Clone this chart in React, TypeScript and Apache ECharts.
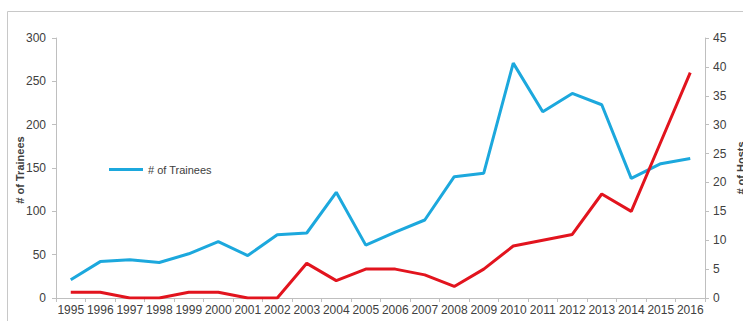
import React, { useEffect, useRef } from "react";
import * as echarts from "echarts";

const years = ["1995","1996","1997","1998","1999","2000","2001","2002","2003","2004","2005","2006","2007","2008","2009","2010","2011","2012","2013","2014","2015","2016"];
const trainees = [21, 42, 44, 41, 51, 65, 49, 73, 75, 122, 61, 76, 90, 140, 144, 271, 215, 236, 223, 138, 155, 161];
const hosts = [1, 1, 0, 0, 1, 1, 0, 0, 6, 3, 5, 5, 4, 2, 5, 9, 10, 11, 18, 15, 27, 39];
const leftTicks = [0, 300, 50];
const rightTicks = [0, 45, 5];

export default function App() {
  const ref = useRef<HTMLDivElement>(null);
  useEffect(() => {
    if (!ref.current) return;
    const chart = echarts.init(ref.current, undefined, { renderer: "svg" });
    const font = "Arial, 'Liberation Sans', sans-serif";
    chart.setOption({
      animation: false,
      backgroundColor: "#fff",
      grid: { left: 56, right: 38, top: 38, bottom: 23, containLabel: false },
      legend: {
        data: [{ name: "# of Trainees" }],
        left: 104,
        top: 159,
        itemWidth: 34,
        itemHeight: 3,
        itemGap: 4,
        icon: "rect",
        textStyle: { fontFamily: font, fontSize: 11, color: "#404040" },
      },
      xAxis: {
        type: "category",
        data: years,
        boundaryGap: true,
        axisLine: { lineStyle: { color: "#bfbfbf", width: 1 } },
        axisTick: { show: true, length: 4, lineStyle: { color: "#bfbfbf" } },
        axisLabel: { interval: 0, fontFamily: font, fontSize: 12, color: "#404040", margin: 6 },
      },
      yAxis: [
        {
          type: "value",
          min: leftTicks[0],
          max: leftTicks[1],
          interval: leftTicks[2],
          position: "left",
          axisLine: { show: true, lineStyle: { color: "#bfbfbf" } },
          axisTick: { show: true, length: 4, lineStyle: { color: "#bfbfbf" } },
          splitLine: { show: false },
          axisLabel: { fontFamily: font, fontSize: 12, color: "#404040", margin: 10 },
        },
        {
          type: "value",
          min: rightTicks[0],
          max: rightTicks[1],
          interval: rightTicks[2],
          position: "right",
          axisLine: { show: true, lineStyle: { color: "#bfbfbf" } },
          axisTick: { show: true, length: 4, lineStyle: { color: "#bfbfbf" } },
          splitLine: { show: false },
          axisLabel: { fontFamily: font, fontSize: 12, color: "#404040", margin: 8 },
        },
      ],
      graphic: [
        {
          type: "rect",
          shape: { x: 7.5, y: 11.5, width: 760, height: 340 },
          style: { fill: "none", stroke: "#c8c8c8", lineWidth: 1 },
          silent: true,
          z: -1,
        },
        {
          type: "text",
          x: 20,
          y: 170,
          rotation: Math.PI / 2,
          style: {
            text: "# of Trainees",
            fontFamily: font,
            fontSize: 11,
            fontWeight: "bold",
            fill: "#404040",
            align: "center",
            verticalAlign: "middle",
          },
        },
        {
          type: "text",
          x: 741,
          y: 168,
          rotation: Math.PI / 2,
          style: {
            text: "# of Hosts",
            fontFamily: font,
            fontSize: 11,
            fontWeight: "bold",
            fill: "#404040",
            align: "center",
            verticalAlign: "middle",
          },
        },
      ],
      series: [
        {
          name: "# of Trainees",
          type: "line",
          yAxisIndex: 0,
          data: trainees,
          symbol: "none",
          lineStyle: { color: "#1ca8dd", width: 3 },
          itemStyle: { color: "#1ca8dd" },
          z: 2,
        },
        {
          name: "# of Hosts",
          type: "line",
          yAxisIndex: 1,
          data: hosts,
          symbol: "none",
          lineStyle: { color: "#e2141e", width: 3 },
          itemStyle: { color: "#e2141e" },
          z: 3,
        },
      ],
    });
    return () => chart.dispose();
  }, []);
  return <div ref={ref} style={{ width: 743, height: 321, position: "absolute", left: 0, top: 0 }} />;
}
